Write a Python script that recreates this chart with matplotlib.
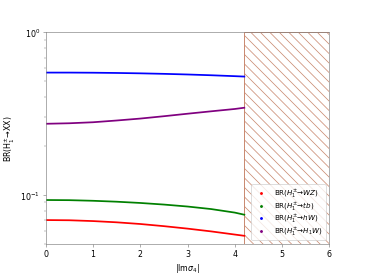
import numpy as np
import matplotlib
matplotlib.use('Agg')
import matplotlib.pyplot as plt

# values, |Im sigma_4| from 0 to the 4.2 cut
im_sigma4 = [0.0, 0.5, 1.0, 1.5, 2.0, 2.5, 3.0, 3.5, 4.0, 4.2]
br_wz = [0.070, 0.0698, 0.0690, 0.0678, 0.0662, 0.0642, 0.0620, 0.0596, 0.0570, 0.0560]
br_tb = [0.093, 0.0928, 0.0920, 0.0908, 0.0892, 0.0872, 0.0848, 0.0818, 0.0778, 0.0755]
br_hw = [0.566, 0.566, 0.565, 0.563, 0.560, 0.556, 0.551, 0.545, 0.538, 0.535]
br_h1w = [0.274, 0.276, 0.280, 0.287, 0.295, 0.305, 0.316, 0.327, 0.338, 0.344]
cut = 4.2

plt.rcParams['hatch.color'] = '#dcae98'
plt.rcParams['hatch.linewidth'] = 0.9
fig, ax = plt.subplots(figsize=(6.4, 4.8), dpi=57.19)

ax.plot(im_sigma4, br_wz, color='red', lw=2.2, label=r'BR($H_1^{\pm}$→$WZ$)')
ax.plot(im_sigma4, br_tb, color='green', lw=2.2, label=r'BR($H_1^{\pm}$→$tb$)')
ax.plot(im_sigma4, br_hw, color='blue', lw=2.2, label=r'BR($H_1^{\pm}$→$hW$)')
ax.plot(im_sigma4, br_h1w, color='purple', lw=2.2, label=r'BR($H_1^{\pm}$→$H_1W$)')

ax.axvspan(cut, 6, facecolor='none', edgecolor='#c8866c', hatch='\\\\', lw=1.2)

ax.set_yscale('log')
ax.set_xlim(0, 6)
ax.set_ylim(0.05, 1)
ax.set_xlabel(r'|Im$\sigma_4$|')
ax.set_ylabel(r'BR(H$_1^{\pm}$→XX)')
for s in ax.spines.values():
    s.set_color('gray')
ax.tick_params(axis='both', color='gray', which='both')

# legend with small dot handles
handles, labels = ax.get_legend_handles_labels()
dots = [plt.Line2D([], [], ls='none', marker='.', ms=5, color=h.get_color()) for h in handles]
ax.legend(dots, labels, loc='lower right', fontsize=9, labelspacing=0.05)

fig.savefig('out.png')
